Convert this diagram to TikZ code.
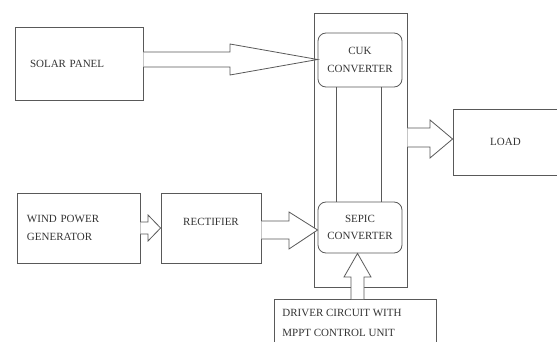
\documentclass[tikz,border=0pt]{standalone}
\usepackage{fontspec}
\setmainfont{Liberation Serif}
\definecolor{lc}{gray}{0.35}
\definecolor{tc}{gray}{0.2}
\begin{document}
\begin{tikzpicture}[x=1pt,y=-1pt,line width=0.8pt,
  box/.style={draw=lc,rectangle,inner sep=0pt,text=tc,font=\fontsize{11}{17.5}\selectfont,align=center},
  rbox/.style={box,rounded corners=8pt},
  lbl/.style={text=tc,inner sep=0pt,font=\fontsize{11}{17.5}\selectfont,align=left},
  fat/.style={draw=lc,fill=white,line join=miter}]
\useasboundingbox (0,0) rectangle (557,342);
\clip (0,0) rectangle (557,342);
% blocks
\node[box,minimum width=128pt,minimum height=73pt,text width=98pt,inner xsep=15pt,align=left] (solar) at (79,63.5) {SOLAR PANEL};
\node[box,minimum width=93pt,minimum height=274pt] (outer) at (360.5,150) {};
\node[rbox,minimum width=84pt,minimum height=54pt] (cuk) at (360,60) {CUK\\CONVERTER};
\node[rbox,minimum width=84pt,minimum height=51pt] (sepic) at (360,227.5) {SEPIC\\CONVERTER};
\node[box,minimum width=105pt,minimum height=66pt] (load) at (505.5,142) {LOAD};
\node[box,minimum width=123pt,minimum height=70pt,text width=103pt,inner xsep=10pt,align=left] (wind) at (78.5,228) {WIND POWER\\GENERATOR};
\node[box,minimum width=100pt,minimum height=70pt] (rect) at (211,228) {};
\node[lbl] (recttext) at (211,222) {RECTIFIER};
\node[box,anchor=north west,minimum width=162pt,minimum height=70pt] (driver) at (274,299) {};
\node[lbl,anchor=north west,font=\fontsize{11}{20}\selectfont] (drivertext) at (282,309) {DRIVER CIRCUIT WITH\\MPPT CONTROL UNIT};
% links between converters
\coordinate (l1) at (336,0);
\coordinate (l2) at (381,0);
\draw[draw=lc] (cuk.south -| l1) -- (sepic.north -| l1);
\draw[draw=lc] (cuk.south -| l2) -- (sepic.north -| l2);
% fat arrows
\draw[fat] (solar.east |- 0,52) -- (230,52) -- (230,44) -- (cuk.west |- 0,59.5) -- (230,75) -- (230,67) -- (solar.east |- 0,67);
\draw[fat] (outer.east |- 0,128) -- (430,128) -- (430,120) -- (load.west |- 0,139) -- (430,158) -- (430,147) -- (outer.east |- 0,147);
\draw[fat] (wind.east |- 0,222) -- (148,222) -- (148,215) -- (rect.west |- 0,228) -- (148,241) -- (148,234) -- (wind.east |- 0,234);
\draw[fat] (rect.east |- 0,221) -- (289,221) -- (289,212) -- (sepic.west |- 0,230) -- (289,249) -- (289,239) -- (rect.east |- 0,239);
\draw[fat] (351,0 |- driver.north) -- (351,277) -- (344,277) -- (357.5,0 |- sepic.south) -- (371,277) -- (364,277) -- (364,0 |- driver.north);
\end{tikzpicture}
\end{document}
